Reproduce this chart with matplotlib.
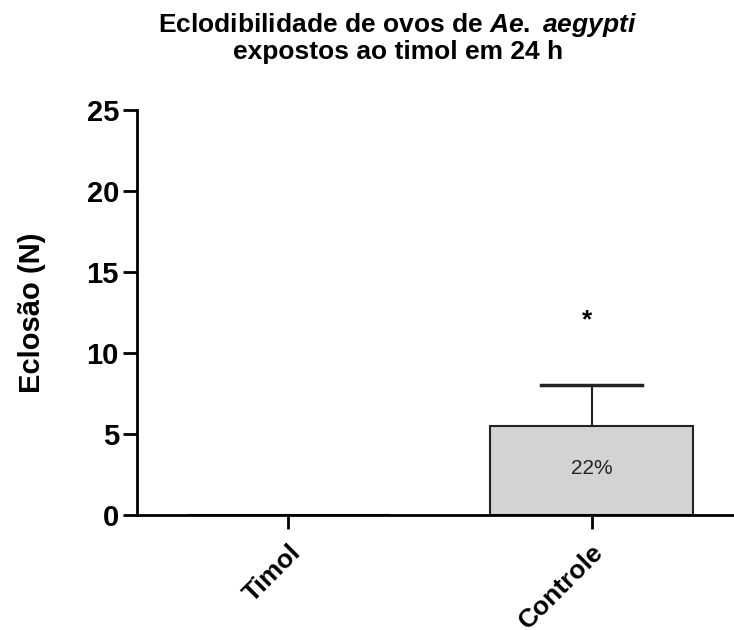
import matplotlib
matplotlib.use("Agg")
import matplotlib.pyplot as plt

plt.rcParams['font.family'] = ['Liberation Sans', 'DejaVu Sans']
plt.rcParams['mathtext.fontset'] = 'custom'
plt.rcParams['mathtext.it'] = 'Liberation Sans:italic:bold'
plt.rcParams['mathtext.rm'] = 'Liberation Sans:bold'

# data
categories = ["Timol", "Controle"]
means = [0, 5.5]
errors = [0, 2.5]
bar_labels = ["", "22%"]
signif = ["", "*"]
signif_y = 12

fig = plt.figure(figsize=(7.34, 6.3), dpi=100)
ax = fig.add_axes([0.1866, 0.1825, 0.8134, 0.643])

x = list(range(len(categories)))
ax.bar(x, means, width=0.667, color="#d3d3d3", edgecolor="#222222", linewidth=1.5,
       yerr=[[0] * len(errors), errors],
       error_kw=dict(ecolor="#222222", elinewidth=1.5, capsize=0, capthick=0),
       zorder=2)

# error bar caps, half the bar width
for xi, m, e in zip(x, means, errors):
    if e > 0:
        ax.plot([xi - 0.167, xi + 0.167], [m + e, m + e], color="#222222", lw=2.5, zorder=3)

for xi, m, lab in zip(x, means, bar_labels):
    if lab:
        ax.text(xi, 2.9, lab, ha="center", va="center", fontsize=15, color="#222222")
for xi, s in zip(x, signif):
    if s:
        ax.text(xi - 0.015, signif_y, s, ha="center", va="center", fontsize=19, fontweight="bold")

ax.set_xlim(-0.5, 1.47)
ax.set_ylim(0, 25)
ax.set_yticks([0, 5, 10, 15, 20, 25])
ax.set_xticks(x)
ax.set_xticklabels(categories, rotation=45, ha="right", rotation_mode="anchor",
                   fontsize=19, fontweight="bold")
for t in ax.get_yticklabels():
    t.set_fontweight("bold")
    t.set_fontsize(21)

ax.spines["top"].set_visible(False)
ax.spines["right"].set_visible(False)
ax.spines["left"].set_linewidth(2)
ax.spines["bottom"].set_linewidth(2)
ax.tick_params(axis="y", length=10, width=2, pad=3)
ax.tick_params(axis="x", length=10, width=2, pad=8)

ax.set_ylabel("Eclosão (N)", fontsize=21, fontweight="bold", labelpad=29)

fig.text(0.542, 0.96, r"Eclodibilidade de ovos de $Ae.$ $aegypti$", ha="center", va="center",
         fontsize=19, fontweight="bold")
fig.text(0.542, 0.917, "expostos ao timol em 24 h", ha="center", va="center",
         fontsize=19, fontweight="bold")

fig.savefig("out.png", dpi=100)
